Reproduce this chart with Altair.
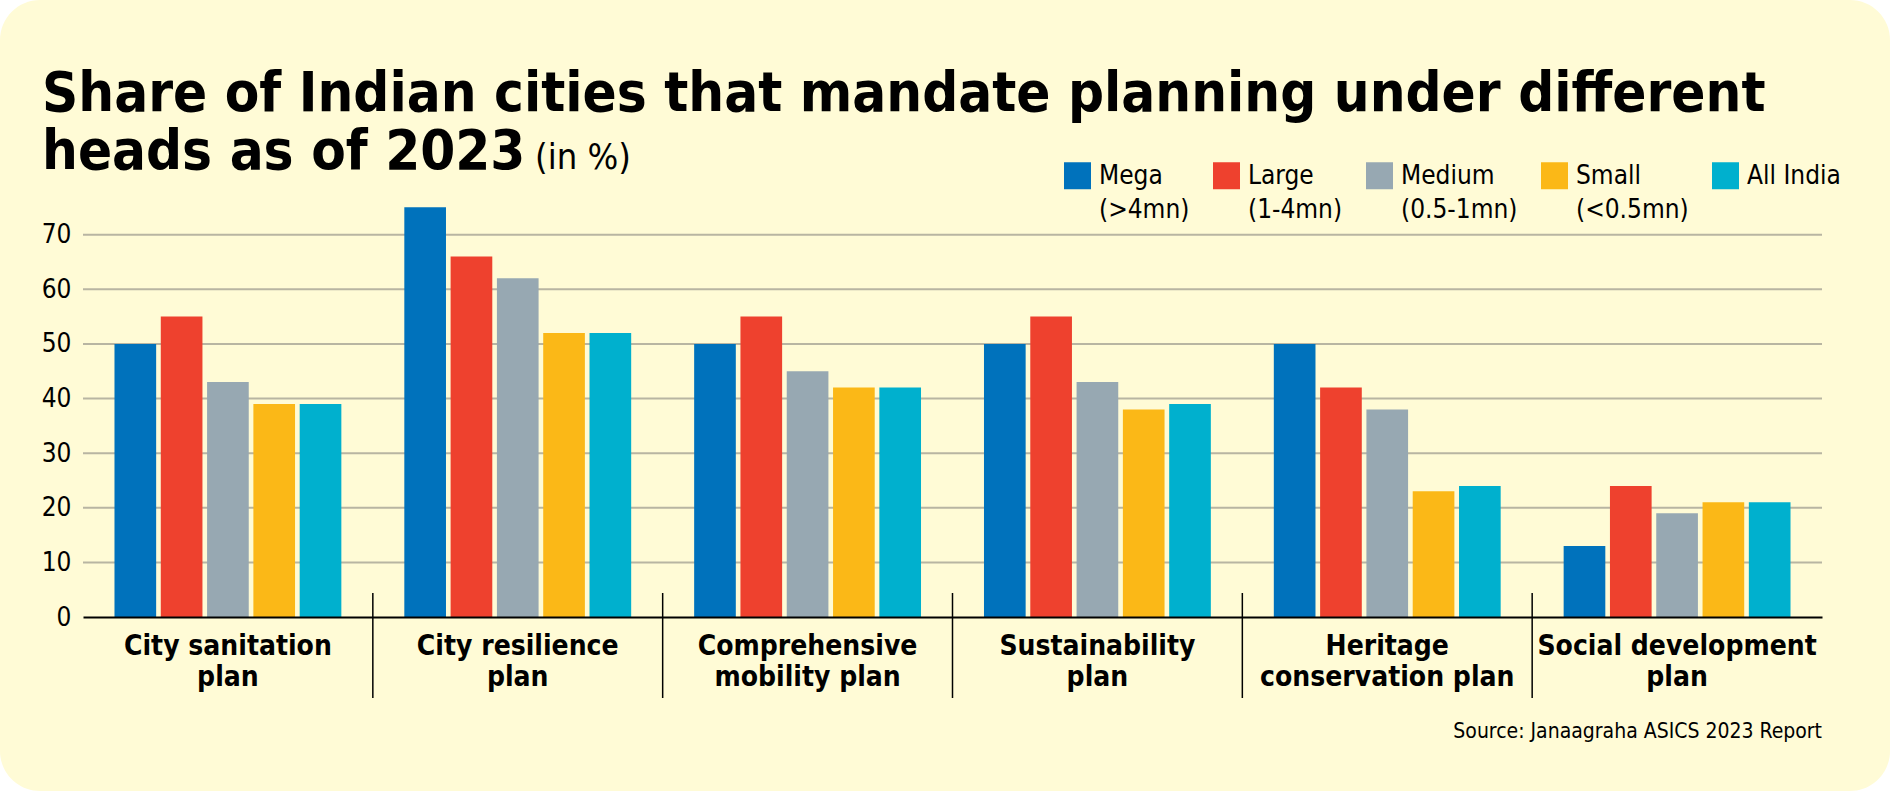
import altair as alt
import pandas as pd

# ---------------- data ----------------
categories = [
    "City sanitation\nplan",
    "City resilience\nplan",
    "Comprehensive\nmobility plan",
    "Sustainability\nplan",
    "Heritage\nconservation plan",
    "Social development\nplan",
]
series = ["Mega", "Large", "Medium", "Small", "All India"]
series_sub = ["(>4mn)", "(1-4mn)", "(0.5-1mn)", "(<0.5mn)", ""]
colors = ["#0072BC", "#EE412E", "#97A8B2", "#FBB817", "#00B0CE"]

mega = [50, 75, 50, 50, 50, 13]
large = [55, 66, 55, 55, 42, 24]
medium = [43, 62, 45, 43, 38, 19]
small = [39, 52, 42, 38, 23, 21]
all_india = [39, 52, 42, 39, 24, 21]

y_ticks = [0, 10, 20, 30, 40, 50, 60, 70]

title_line1 = "Share of Indian cities that mandate planning under different"
title_line2 = "heads as of 2023"
title_unit = "(in %)"
source_text = "Source: Janaagraha ASICS 2023 Report"

# ---------------- build table ----------------
rows = []
for s, vals in zip(series, [mega, large, medium, small, all_india]):
    for c, v in zip(categories, vals):
        rows.append({"category": c, "series": s, "value": v})
df = pd.DataFrame(rows)

FONT = "DejaVu Sans Condensed"
BG = "#FFFBD6"

W, H = 1739, 437
PAD = {"left": 83, "top": 180, "right": 68, "bottom": 174}

legend_expr = ""
for s, sub in zip(series, series_sub):
    legend_expr += f"datum.label == '{s}' ? ['{s}', '{sub}'] : "
legend_expr += "datum.label"

one = pd.DataFrame({"t": [""]})

background = alt.Chart(one).mark_rect(color=BG, cornerRadius=40).encode(
    x=alt.value(-PAD["left"]),
    x2=alt.value(W + PAD["right"]),
    y=alt.value(-PAD["top"]),
    y2=alt.value(H + PAD["bottom"]),
)

xscale = alt.Scale(domain=categories, paddingInner=0, paddingOuter=0)
yscale = alt.Scale(domain=[0, 80], nice=False)

yaxis = alt.Axis(
    title=None,
    values=y_ticks,
    labelFont=FONT,
    labelFontSize=26,
    labelColor="black",
    labelPadding=12,
    ticks=False,
    domain=False,
    grid=False,
    zindex=1,
)

grid = alt.Chart(pd.DataFrame({"v": y_ticks[1:]})).mark_rule(color="#B8B5A2", strokeWidth=2).encode(
    y=alt.Y("v:Q", scale=yscale, axis=yaxis),
    x=alt.value(0),
    x2=alt.value(W),
)

bars = alt.Chart(df).mark_bar().encode(
    x=alt.X(
        "category:N",
        sort=categories,
        scale=xscale,
        axis=alt.Axis(
            title=None,
            labelAngle=0,
            labelExpr="split(datum.label, '\\n')",
            labelFont=FONT,
            labelFontSize=28,
            labelFontWeight="bold",
            labelColor="black",
            labelLineHeight=31,
            labelPadding=15,
            labelBaseline="top",
            labelLimit=400,
            ticks=False,
            domainColor="black",
            domainWidth=2,
            grid=False,
            zindex=1,
        ),
    ),
    xOffset=alt.XOffset(
        "series:N", sort=series, scale=alt.Scale(domain=series, paddingInner=0.1, paddingOuter=0.68)
    ),
    y=alt.Y("value:Q", scale=yscale, axis=yaxis),
    color=alt.Color(
        "series:N",
        sort=series,
        scale=alt.Scale(domain=series, range=colors),
        legend=alt.Legend(
            title=None,
            orient="none",
            legendX=981,
            legendY=-18,
            direction="horizontal",
            symbolType="square",
            symbolSize=729,
            symbolStrokeWidth=0,
            symbolOpacity=1,
            labelExpr=legend_expr,
            labelFont=FONT,
            labelFontSize=26,
            labelColor="black",
            labelBaseline="middle",
            labelOffset=8,
            columnPadding=23,
            labelLimit=300,
        ),
    ),
)

separators = alt.Chart(pd.DataFrame({"category": categories[1:]})).mark_rule(
    color="black", strokeWidth=1.5
).encode(
    x=alt.X("category:N", sort=categories, scale=xscale, bandPosition=0),
    y=alt.value(H - 24),
    y2=alt.value(H + 81),
)

t1 = alt.Chart(pd.DataFrame({"t": [title_line1]})).mark_text(
    font=FONT, fontSize=56, fontWeight="bold", align="left", baseline="alphabetic", color="black"
).encode(text="t:N", x=alt.value(42 - PAD["left"]), y=alt.value(111 - PAD["top"]))

t2 = alt.Chart(pd.DataFrame({"t": [title_line2]})).mark_text(
    font=FONT, fontSize=56, fontWeight="bold", align="left", baseline="alphabetic", color="black"
).encode(text="t:N", x=alt.value(42 - PAD["left"]), y=alt.value(169 - PAD["top"]))

t3 = alt.Chart(pd.DataFrame({"t": [title_unit]})).mark_text(
    font=FONT, fontSize=36, align="left", baseline="alphabetic", color="black"
).encode(text="t:N", x=alt.value(535 - PAD["left"]), y=alt.value(169 - PAD["top"]))

src = alt.Chart(pd.DataFrame({"t": [source_text]})).mark_text(
    font=FONT, fontSize=21, align="right", baseline="alphabetic", color="black"
).encode(text="t:N", x=alt.value(W), y=alt.value(738 - PAD["top"]))

chart = (
    alt.layer(background, grid, bars, separators, t1, t2, t3, src)
    .properties(
        width=W,
        height=H,
        padding=PAD,
        autosize=alt.AutoSizeParams(type="none"),
        background="white",
    )
    .configure(style={"guide-label": {"lineHeight": 34}})
    .configure_view(stroke=None)
)

chart.save("out.html", embed_options={"renderer": "svg", "actions": False})
